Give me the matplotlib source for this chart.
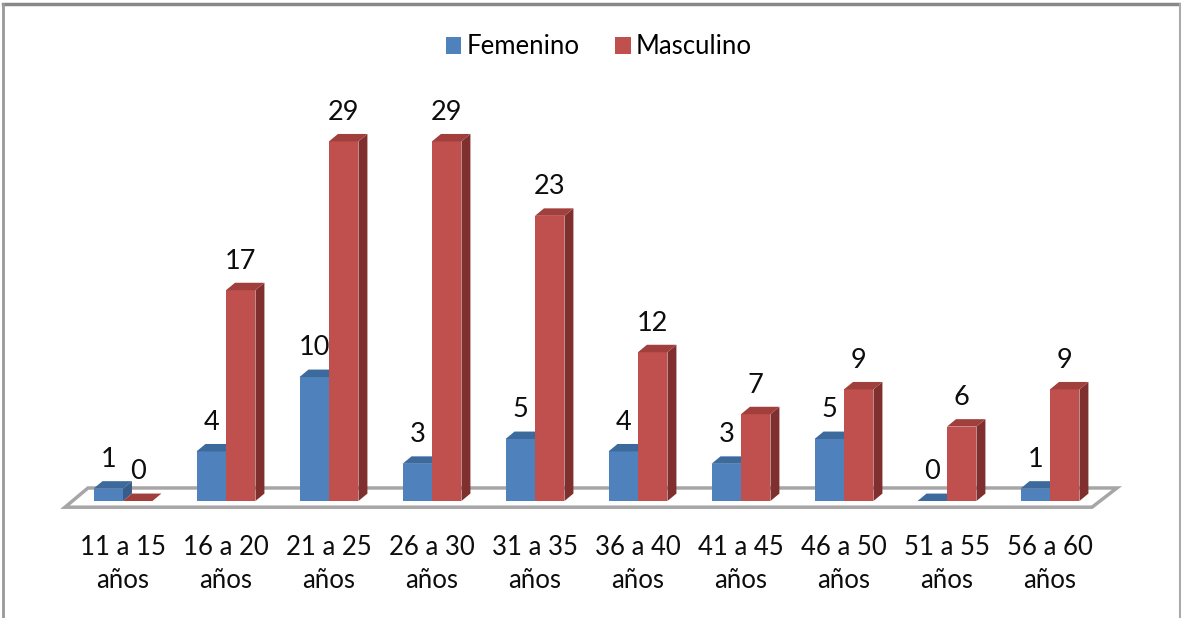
import matplotlib.pyplot as plt
from matplotlib.patches import Polygon, Rectangle
from matplotlib.lines import Line2D

# --- data ---
categories = ["11 a 15\naños", "16 a 20\naños", "21 a 25\naños", "26 a 30\naños",
              "31 a 35\naños", "36 a 40\naños", "41 a 45\naños", "46 a 50\naños",
              "51 a 55\naños", "56 a 60\naños"]
femenino = [1, 4, 10, 3, 5, 4, 3, 5, 0, 1]
masculino = [0, 17, 29, 29, 23, 12, 7, 9, 6, 9]
series_names = ["Femenino", "Masculino"]

# colours: front, top, side
BLUE = ("#4F81BD", "#3D6A9C", "#385D8A")
RED = ("#C0504D", "#A03F3C", "#7F302E")

plt.rcParams['font.family'] = ['Lato', 'DejaVu Sans']

W, H = 1181, 618
fig = plt.figure(figsize=(W / 100, H / 100), dpi=100)

# pixel geometry of the plot (category spacing / value scale)
X0, PX_X = 123, 103.0
Y0, PX_V = 501, 12.4
ax = fig.add_axes([0, 0, 1, 1])
ax.set_xlim(-X0 / PX_X, (W - X0) / PX_X)
ax.set_ylim((Y0 - H) / PX_V, Y0 / PX_V)
ax.axis('off')

bw = 0.286          # bar width in category units
dx, dy = 0.087, 0.6  # 3d depth offsets
FS_LBL = 19.5
FS_TXT = 18.5

# floor
n = len(categories)
floor = Polygon([(-0.563, -0.5), (n - 1 + 0.408, -0.5),
                 (n - 1 + 0.65, 1.05), (-0.34, 1.05)],
                closed=True, facecolor='white', edgecolor='#A6A6A6', lw=2.5, zorder=1)
ax.add_patch(floor)


def bar3d(x0, v, cols, z):
    x1 = x0 + bw
    if v > 0:
        ax.add_patch(Rectangle((x0, 0), bw, v, facecolor=cols[0], edgecolor='none', zorder=z))
        ax.add_patch(Polygon([(x1, 0), (x1, v), (x1 + dx, v + dy), (x1 + dx, dy)],
                             closed=True, facecolor=cols[2], edgecolor='none', zorder=z))
    ax.add_patch(Polygon([(x0, v), (x1, v), (x1 + dx, v + dy), (x0 + dx, v + dy)],
                         closed=True, facecolor=cols[1], edgecolor='none', zorder=z))
    ax.text(x0 + bw / 2, v + 2.35, str(v), ha='center', va='center',
            fontsize=FS_LBL, color='#0d0d0d', zorder=10)


for i in range(n):
    bar3d(i - bw, femenino[i], BLUE, 2 + i * 2)
    bar3d(i, masculino[i], RED, 3 + i * 2)
    ax.text(i, -5.05, categories[i], ha='center', va='center', fontsize=FS_TXT,
            color='#0d0d0d', linespacing=1.4)

# legend
handles = [Rectangle((0, 0), 1, 1, facecolor=BLUE[0]), Rectangle((0, 0), 1, 1, facecolor=RED[0])]
fig.legend(handles, series_names, loc='center', bbox_to_anchor=(0.507, 1 - 47 / H), ncol=2,
           frameon=False, fontsize=FS_TXT, handlelength=0.6, handleheight=0.6,
           handletextpad=0.2, columnspacing=1.4)

# outer border (top, left, right)
fig.add_artist(Line2D([3 / W, 1180 / W], [1 - 4 / H, 1 - 4 / H], color='#888888', lw=2.5))
fig.add_artist(Line2D([3 / W, 3 / W], [0, 1 - 4 / H], color='#999999', lw=2))
fig.add_artist(Line2D([1180 / W, 1180 / W], [0, 1 - 4 / H], color='#AAAAAA', lw=1.5))

fig.savefig("out.png", dpi=100)
